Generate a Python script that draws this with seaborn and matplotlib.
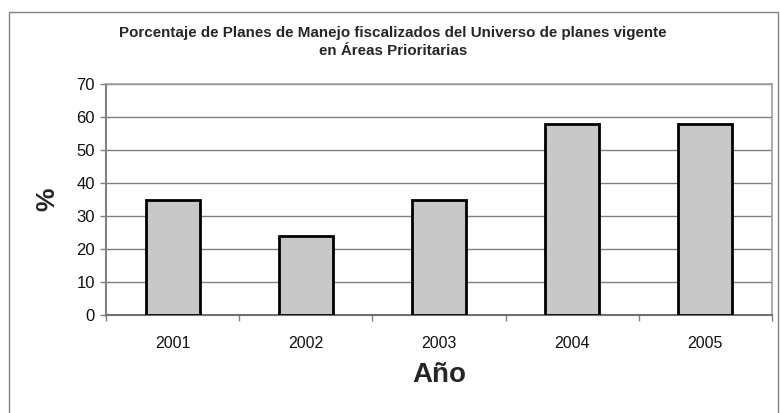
import matplotlib
matplotlib.use('Agg')
import matplotlib.pyplot as plt
from matplotlib.patches import Rectangle
import seaborn as sns
import pandas as pd
import numpy as np

years = ['2001', '2002', '2003', '2004', '2005']
percent = [35, 24, 35, 58, 58]

title = 'Porcentaje de Planes de Manejo fiscalizados del Universo de planes vigente\nen Áreas Prioritarias'

sns.set_theme(style='white')
plt.rcParams['font.family'] = ['Liberation Sans', 'DejaVu Sans']

df = pd.DataFrame({'year': years, 'pct': percent})

fig = plt.figure(figsize=(7.8, 4.13), dpi=100)
ax = fig.add_axes([106 / 780, 1 - 315 / 413, 666 / 780, 231 / 413])

sns.barplot(data=df, x='year', y='pct', color='#c8c8c8', width=0.405,
            edgecolor='black', linewidth=2, saturation=1, ax=ax, zorder=3)

ax.set_ylim(0, 70)
ax.set_xlim(-0.5, 4.5)
ax.set_yticks(range(0, 71, 10))
ax.yaxis.grid(True, color='#808080', linewidth=1, zorder=0)
ax.set_axisbelow(True)

for s in ['top', 'right']:
    ax.spines[s].set_color('#a0a0a0')
    ax.spines[s].set_linewidth(1.2)
ax.spines['left'].set_color('#808080')
ax.spines['left'].set_linewidth(1.5)
ax.spines['bottom'].set_color('#707070')
ax.spines['bottom'].set_linewidth(1.5)

ax.tick_params(axis='y', left=True, length=4, width=1, color='#808080',
               labelsize=12, pad=4, labelcolor='#111111')
ax.tick_params(axis='x', bottom=False, labelsize=11.5, pad=9, labelcolor='#111111')
ax.set_xticks(np.arange(-0.5, 5, 1), minor=True)
ax.tick_params(axis='x', which='minor', bottom=True, length=4, width=1, color='#808080')

ax.set_ylabel('%', fontsize=19, fontweight='bold', labelpad=12)
ax.set_xlabel('Año', fontsize=20, fontweight='bold', labelpad=8,
              family=['Liberation Sans Narrow', 'Liberation Sans'])

fig.text(393 / 780, 1 - 42 / 413, title, ha='center', va='center',
         fontsize=10.9, fontweight='bold', linespacing=1.45)

fig.patches.append(Rectangle((9 / 780, -0.1), (778 - 9) / 780, 1.1 - 12 / 413,
                             transform=fig.transFigure, fill=False,
                             edgecolor='#808080', linewidth=1))

fig.savefig('out.png', dpi=100)
